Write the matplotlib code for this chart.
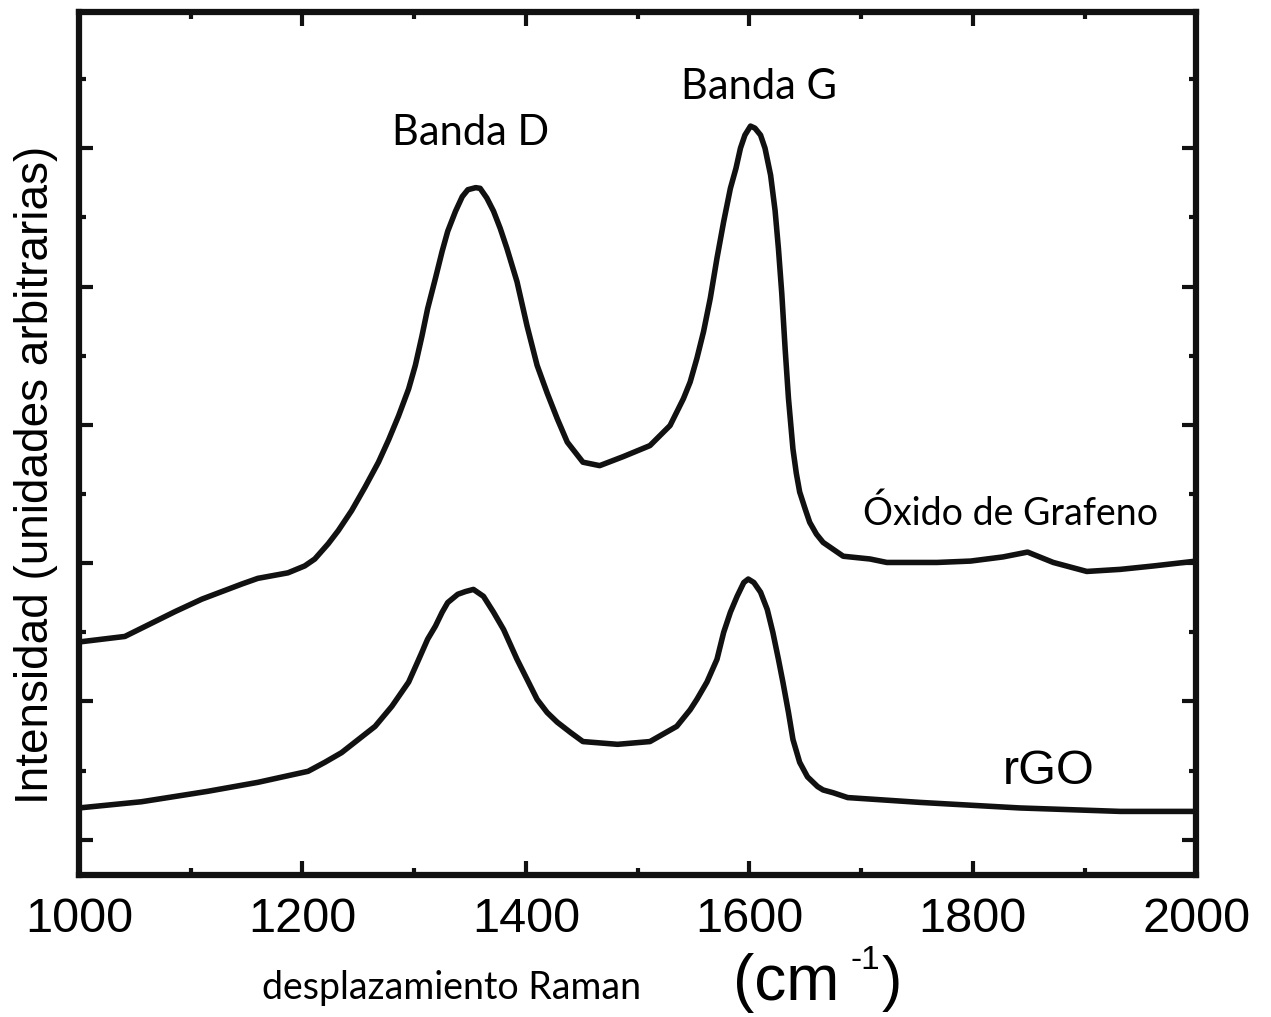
import matplotlib
matplotlib.use("Agg")
import matplotlib.pyplot as plt
from matplotlib.ticker import MultipleLocator

# Raman spectra (arbitrary intensity units)
go_x = [1000, 1041, 1086, 1110, 1146, 1160, 1187, 1202, 1211, 1223, 1232, 1244,
        1256, 1268, 1277, 1286, 1295, 1301, 1307, 1312, 1319, 1325, 1330, 1337,
        1343, 1348, 1355, 1359, 1365, 1371, 1377, 1383, 1392, 1401, 1410, 1419,
        1428, 1437, 1451, 1466, 1487, 1511, 1529, 1541, 1547, 1553, 1559, 1565,
        1571, 1577, 1583, 1588, 1592, 1596, 1601, 1605, 1610, 1614, 1619, 1623,
        1626, 1629, 1632, 1635, 1639, 1642, 1645, 1650, 1654, 1660, 1666, 1675,
        1684, 1708, 1723, 1768, 1798, 1827, 1849, 1872, 1902, 1932, 1962, 2000]
go_y = [2.86, 2.94, 3.30, 3.48, 3.70, 3.78, 3.86, 3.96, 4.06, 4.28, 4.47, 4.76,
        5.10, 5.46, 5.78, 6.13, 6.52, 6.86, 7.29, 7.68, 8.12, 8.51, 8.80, 9.09,
        9.30, 9.40, 9.43, 9.42, 9.28, 9.09, 8.84, 8.55, 8.07, 7.43, 6.86, 6.46,
        6.09, 5.75, 5.46, 5.41, 5.54, 5.70, 5.99, 6.38, 6.62, 6.96, 7.35, 7.83,
        8.41, 8.94, 9.42, 9.71, 10.00, 10.19, 10.32, 10.29, 10.19, 10.00, 9.61, 9.10,
        8.55, 7.90, 7.10, 6.38, 5.65, 5.30, 5.03, 4.78, 4.59, 4.42, 4.30, 4.20,
        4.10, 4.06, 4.01, 4.01, 4.03, 4.09, 4.16, 4.01, 3.88, 3.91, 3.96, 4.03]

rgo_x = [1000, 1056, 1115, 1160, 1205, 1220, 1235, 1250, 1265, 1280, 1295, 1303,
         1312, 1319, 1325, 1330, 1339, 1346, 1353, 1362, 1371, 1380, 1392, 1401,
         1410, 1419, 1428, 1440, 1451, 1482, 1511, 1535, 1547, 1553, 1562, 1571,
         1577, 1583, 1589, 1595, 1599, 1604, 1610, 1616, 1621, 1626, 1630, 1635,
         1639, 1645, 1652, 1661, 1666, 1675, 1688, 1753, 1842, 1932, 2000]
rgo_y = [0.46, 0.55, 0.70, 0.83, 0.99, 1.12, 1.26, 1.45, 1.64, 1.93, 2.28, 2.57,
         2.90, 3.09, 3.29, 3.43, 3.55, 3.59, 3.62, 3.52, 3.29, 3.04, 2.61, 2.32,
         2.03, 1.84, 1.70, 1.55, 1.42, 1.38, 1.42, 1.64, 1.88, 2.03, 2.28, 2.61,
         3.00, 3.29, 3.52, 3.72, 3.77, 3.72, 3.58, 3.33, 3.00, 2.61, 2.28, 1.84,
         1.45, 1.12, 0.91, 0.77, 0.72, 0.68, 0.61, 0.54, 0.46, 0.41, 0.41]

xticks = [1000, 1200, 1400, 1600, 1800, 2000]

fig = plt.figure(figsize=(12.71, 10.17), dpi=100)
ax = fig.add_axes([0.0622, 0.1396, 0.879, 0.8486])

ax.plot(go_x, go_y, color="#111111", lw=4, solid_joinstyle="round")
ax.plot(rgo_x, rgo_y, color="#111111", lw=4, solid_joinstyle="round")

ax.set_xlim(1000, 2000)
ax.set_ylim(-0.51, 11.97)
ax.set_xticks(xticks)
ax.set_xticklabels([str(t) for t in xticks], family="Liberation Sans", fontsize=35)
ax.xaxis.set_minor_locator(MultipleLocator(100))
ax.yaxis.set_major_locator(MultipleLocator(2))
ax.yaxis.set_minor_locator(MultipleLocator(1))
ax.tick_params(which="both", direction="in", top=True, right=True,
               labelleft=False, width=3, color="#111111")
ax.tick_params(which="major", length=10)
ax.tick_params(which="minor", length=5)
ax.tick_params(axis="x", pad=16)
for s in ax.spines.values():
    s.set_linewidth(4.5)
    s.set_color("#111111")

# annotations
ax.text(1350, 10.22, "Banda D", family="Lato", fontsize=30, ha="center", va="center")
ax.text(1609, 10.88, "Banda G", family="Lato", fontsize=30, ha="center", va="center")
ax.text(1834, 4.72, "Óxido de Grafeno", family="Lato", fontsize=27, ha="center", va="center")
ax.text(1868, 0.99, "rGO", family="Liberation Sans", fontsize=35, ha="center", va="center")

fig.text(0.028, 0.533, "Intensidad (unidades arbitrarias)", family="Liberation Sans",
         fontsize=33, rotation=90, ha="center", va="center")
fig.text(0.355, 0.029, "desplazamiento Raman", family="Lato", fontsize=27,
         ha="center", va="center")
# unit, drawn in three pieces like the original
fig.text(733 / 1271, 0.033, "(cm", family="Liberation Sans", fontsize=46,
         ha="left", va="center")
fig.text(850 / 1271, 0.056, "-1", family="Liberation Sans", fontsize=24,
         ha="left", va="center")
fig.text(882 / 1271, 0.033, ")", family="Liberation Sans", fontsize=44,
         ha="left", va="center")

fig.savefig("out.png", dpi=100)
